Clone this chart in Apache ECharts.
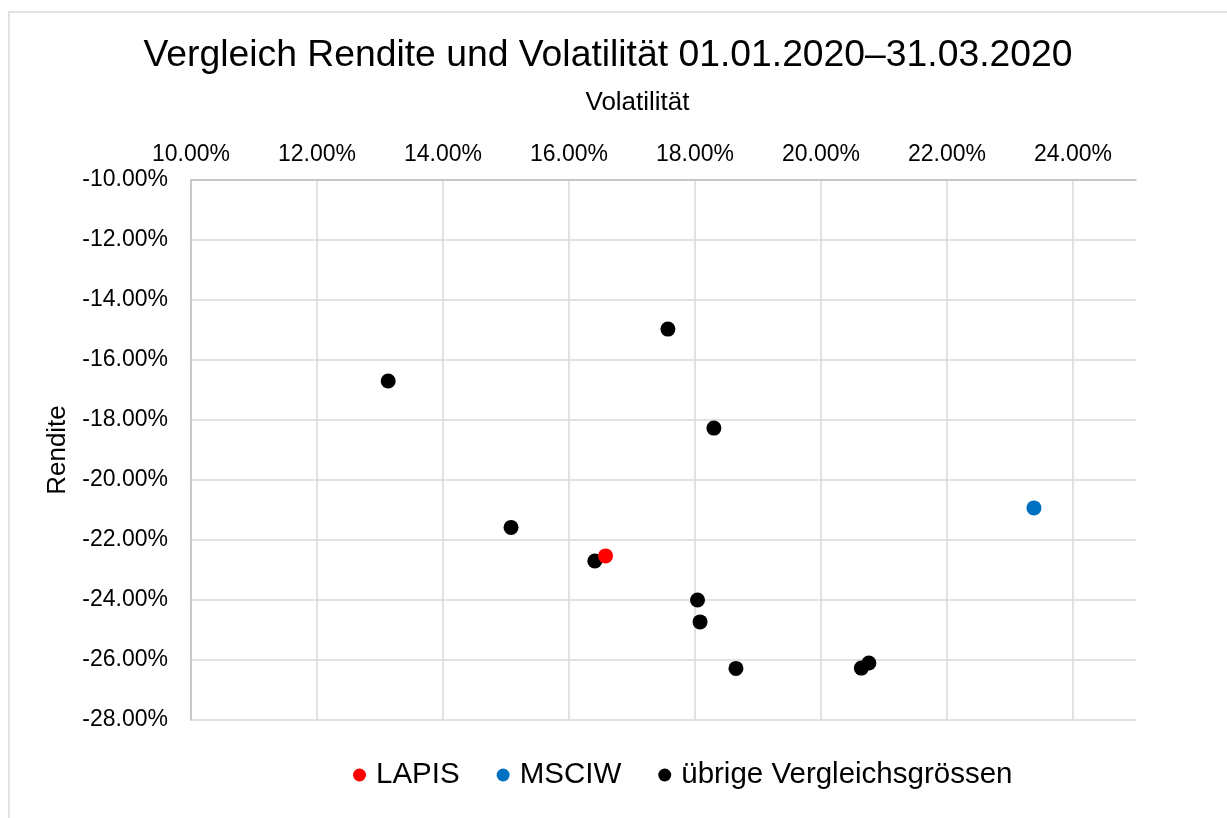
<!DOCTYPE html>
<html>
<head>
<meta charset="utf-8">
<script src="https://cdn.jsdelivr.net/npm/echarts@6/dist/echarts.min.js"></script>
<style>
  html, body { margin: 0; padding: 0; background: #fff; }
  #chart { width: 1227px; height: 818px; }
</style>
</head>
<body>
<div id="chart"></div>
<script>
// Volatilität (%), Rendite (%)
var lapis = [[16.58, -22.53]];
var msciw = [[23.38, -20.93]];
var uebrige = [
    [13.13, -16.70],
    [17.57, -14.97],
    [18.30, -18.27],
    [15.08, -21.58],
    [16.41, -22.70],
    [18.04, -24.00],
    [18.08, -24.73],
    [18.65, -26.28],
    [20.64, -26.27],
    [20.76, -26.10]
];
var seriesNames = ['LAPIS', 'MSCIW', 'übrige Vergleichsgrössen'];

~function () {
    var myChart = echarts.init(document.getElementById('chart'));
    var font = 'Liberation Sans, Arial, sans-serif';
    var pct = function (v) { return v.toFixed(2) + '%'; };
    var option = {
        backgroundColor: '#fff',
        textStyle: {fontFamily: font},
        title: {
            text: 'Vergleich Rendite und Volatilität 01.01.2020–31.03.2020',
            left: 603,
            top: 32,
            textAlign: 'center',
            textStyle: {fontFamily: font, fontSize: 37.3, fontWeight: 'normal', color: '#000'}
        },
        graphic: [
            {
                type: 'rect',
                shape: {x: 9, y: 12, width: 1260, height: 900},
                style: {fill: 'none', stroke: '#d9d9d9', lineWidth: 1.5},
                silent: true
            }
        ],
        legend: {
            data: seriesNames,
            left: 348,
            top: 755,
            icon: 'circle',
            itemWidth: 13,
            itemHeight: 13,
            itemGap: 37,
            textStyle: {fontFamily: font, fontSize: 29.5, color: '#000', padding: [0, 0, 0, 5]}
        },
        grid: {left: 191, right: 91, top: 180, bottom: 98},
        xAxis: {
            type: 'value',
            position: 'top',
            min: 10,
            max: 25,
            interval: 2,
            name: 'Volatilität',
            nameLocation: 'middle',
            nameGap: 64,
            nameTextStyle: {fontFamily: font, fontSize: 26, color: '#000', padding: [0, 52, 0, 0]},
            axisLine: {show: true, lineStyle: {color: '#bfbfbf', width: 1.5}},
            axisTick: {show: false},
            axisLabel: {formatter: pct, fontSize: 23, color: '#000', margin: 14, showMaxLabel: false},
            splitLine: {show: true, showMaxLine: false, lineStyle: {color: '#d9d9d9', width: 1.5}}
        },
        yAxis: {
            type: 'value',
            min: -28,
            max: -10,
            interval: 2,
            name: 'Rendite',
            nameLocation: 'middle',
            nameGap: 120,
            nameTextStyle: {fontFamily: font, fontSize: 26, color: '#000'},
            axisLine: {show: true, lineStyle: {color: '#bfbfbf', width: 1.5}},
            axisTick: {show: false},
            axisLabel: {formatter: pct, fontSize: 23, color: '#000', margin: 23},
            splitLine: {show: true, lineStyle: {color: '#d9d9d9', width: 1.5}}
        },
        series: [
            {
                name: seriesNames[0],
                type: 'scatter',
                data: lapis,
                symbolSize: 15,
                z: 4,
                itemStyle: {color: '#ff0000', opacity: 1}
            },
            {
                name: seriesNames[1],
                type: 'scatter',
                data: msciw,
                symbolSize: 15,
                z: 3,
                itemStyle: {color: '#0070c0', opacity: 1}
            },
            {
                name: seriesNames[2],
                type: 'scatter',
                data: uebrige,
                symbolSize: 15,
                z: 2,
                itemStyle: {color: '#000000', opacity: 1}
            }
        ]
    };
    myChart.setOption(option);
}();
</script>
</body>
</html>
